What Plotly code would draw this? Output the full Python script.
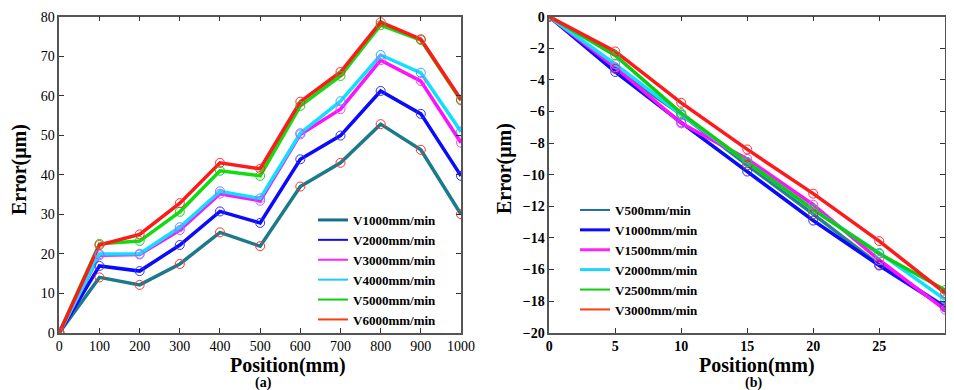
import plotly.graph_objects as go

# ---------------- data ----------------
pos_a = [0, 100, 200, 300, 400, 500, 600, 700, 800, 900, 1000]
names_a = ["V1000mm/min", "V2000mm/min", "V3000mm/min", "V4000mm/min", "V5000mm/min", "V6000mm/min"]
v1000 = [0, 14.0, 12.1, 17.4, 25.4, 21.9, 37.0, 43.0, 52.8, 46.3, 30.0]
v2000 = [0, 16.9, 15.6, 22.2, 30.7, 27.8, 43.9, 49.9, 61.2, 55.4, 39.7]
v3000 = [0, 19.6, 19.8, 26.0, 35.2, 33.4, 50.2, 56.6, 69.0, 63.7, 48.1]
v4000 = [0, 19.9, 20.0, 26.7, 35.8, 34.0, 50.5, 58.6, 70.3, 65.8, 50.9]
v5000 = [0, 22.5, 23.2, 30.6, 41.0, 39.7, 57.4, 65.0, 77.9, 74.1, 58.8]
v6000 = [0, 22.2, 24.9, 32.8, 43.0, 41.5, 58.5, 66.0, 78.6, 74.3, 59.0]
series_a = [v1000, v2000, v3000, v4000, v5000, v6000]

pos_b = [0, 5, 10, 15, 20, 25, 30]
names_b = ["V500mm/min", "V1000mm/min", "V1500mm/min", "V2000mm/min", "V2500mm/min", "V3000mm/min"]
w500 = [0, -3.3, -6.2, -9.4, -12.5, -15.7, -18.35]
w1000 = [0, -3.5, -6.7, -9.8, -12.9, -15.75, -18.4]
w1500 = [0, -3.2, -6.75, -9.0, -11.9, -15.4, -18.55]
w2000 = [0, -3.0, -6.2, -9.2, -12.2, -14.95, -17.9]
w2500 = [0, -2.45, -6.1, -9.2, -12.2, -15.0, -17.3]
w3000 = [0, -2.2, -5.45, -8.4, -11.2, -14.2, -17.5]
series_b = [w500, w1000, w1500, w2000, w2500, w3000]

ticks_a_x = [0, 100, 200, 300, 400, 500, 600, 700, 800, 900, 1000]
ticks_a_y = [0, 10, 20, 30, 40, 50, 60, 70, 80]
ticks_b_x = [0, 5, 10, 15, 20, 25, 30]
ticks_b_y = [0, -2, -4, -6, -8, -10, -12, -14, -16, -18, -20]

# ---------------- styles ----------------
line_cols_a = ["#1b7b8a", "#0a0aff", "#ff10ff", "#10e0ff", "#10dd10", "#ff1a1a"]
mark_cols_a = ["#ff3030", "#3030ff", "#ff40ff", "#40a0ff", "#20cc20", "#ff3030"]
leg_cols_a = ["#176e8c", "#0a0aff", "#ff20ff", "#20c8ff", "#10cc10", "#ff3a10"]
line_cols_b = ["#2a8290", "#0a0aff", "#ff10ff", "#10e0ff", "#10cc10", "#ff1a1a"]
mark_cols_b = ["#c03030", "#3030ff", "#ff40ff", "#30b0ff", "#20cc20", "#ff3030"]
leg_cols_b = ["#1e6e9a", "#0a0aff", "#ff20ff", "#20d0ff", "#10cc10", "#ff3a10"]

fig = go.Figure()

# left chart
for i, (nm, ys) in enumerate(zip(names_a, series_a)):
    fig.add_trace(go.Scatter(x=pos_a, y=ys, mode="lines", line=dict(color=line_cols_a[i], width=3.5),
                             xaxis="x", yaxis="y", showlegend=False, hoverinfo="skip"))
for i, (nm, ys) in enumerate(zip(names_a, series_a)):
    fig.add_trace(go.Scatter(x=pos_a, y=ys, mode="markers",
                             marker=dict(symbol="circle-open", size=9, color=mark_cols_a[i], line=dict(width=1)),
                             xaxis="x", yaxis="y", showlegend=False))
for i, nm in enumerate(names_a):
    fig.add_trace(go.Scatter(x=[None], y=[None], mode="lines", name=nm,
                             line=dict(color=leg_cols_a[i], width=3 if i < 1 else 2),
                             xaxis="x", yaxis="y", legend="legend"))

# right chart
for i, (nm, ys) in enumerate(zip(names_b, series_b)):
    fig.add_trace(go.Scatter(x=pos_b, y=ys, mode="lines", line=dict(color=line_cols_b[i], width=3.5),
                             xaxis="x2", yaxis="y2", showlegend=False, hoverinfo="skip"))
for i, (nm, ys) in enumerate(zip(names_b, series_b)):
    fig.add_trace(go.Scatter(x=pos_b, y=ys, mode="markers",
                             marker=dict(symbol="circle-open", size=9, color=mark_cols_b[i], line=dict(width=1)),
                             xaxis="x2", yaxis="y2", showlegend=False))
for i, nm in enumerate(names_b):
    fig.add_trace(go.Scatter(x=[None], y=[None], mode="lines", name=nm,
                             line=dict(color=leg_cols_b[i], width=2 if i in (0, 4, 5) else 3),
                             xaxis="x2", yaxis="y2", legend="legend2"))

serif = "Liberation Serif, Times New Roman, serif"
axis_common = dict(showline=True, linecolor="#555555", linewidth=1.5, mirror="ticks",
                   ticks="inside", ticklen=5, tickcolor="#333333", showgrid=False, zeroline=False,
                   automargin=False)

# the page body adds an 8px offset; keep the figure inside the body's width
W, H = 938, 382


def px(x):
    return x / W


def py(y):
    return 1 - y / H


def label(text, x, y, size, angle=0):
    return dict(text=text, x=px(x), y=py(y), xref="paper", yref="paper", xanchor="center",
                yanchor="middle", showarrow=False, textangle=angle, font=dict(size=size, family=serif))


fig.update_layout(
    width=W, height=H,
    margin=dict(l=0, r=0, t=0, b=0),
    paper_bgcolor="white", plot_bgcolor="white",
    font=dict(family=serif, color="black"),
    xaxis=dict(domain=[px(51.3), px(453)], range=[0, 1000], tickvals=ticks_a_x,
               tickfont=dict(size=14, family=serif), anchor="y", **axis_common),
    yaxis=dict(domain=[py(324.7), py(8.7)], range=[0, 80], tickvals=ticks_a_y,
               tickfont=dict(size=14, family=serif), anchor="x", **axis_common),
    xaxis2=dict(domain=[px(541.3), px(937.2)], range=[0, 30], tickvals=ticks_b_x,
                tickfont=dict(size=14, family=serif, weight="bold"), anchor="y2", **axis_common),
    yaxis2=dict(domain=[py(324.7), py(8.7)], range=[-20, 0], tickvals=ticks_b_y,
                tickfont=dict(size=14, family=serif, weight="bold"), anchor="x2", **axis_common),
    legend=dict(x=px(305), y=py(197), xanchor="left", yanchor="top",
                bgcolor="rgba(0,0,0,0)", font=dict(size=13, family=serif, weight="bold"),
                tracegroupgap=0, itemwidth=30),
    legend2=dict(x=px(567), y=py(187), xanchor="left", yanchor="top",
                 bgcolor="rgba(0,0,0,0)", font=dict(size=13, family=serif, weight="bold"),
                 tracegroupgap=0, itemwidth=30),
    annotations=[
        label("<b>Position(mm)</b>", 280, 357, 20),
        label("<b>(a)</b>", 255, 375, 14),
        label("<b>Position(mm)</b>", 749, 357, 20),
        label("<b>(b)</b>", 745, 375, 14),
        label("<b>Error(μm)</b>", 12, 162, 20, -90),
        label("<b>Error(μm)</b>", 496, 161, 20, -90),
    ],
)

fig.write_html("out.html")
